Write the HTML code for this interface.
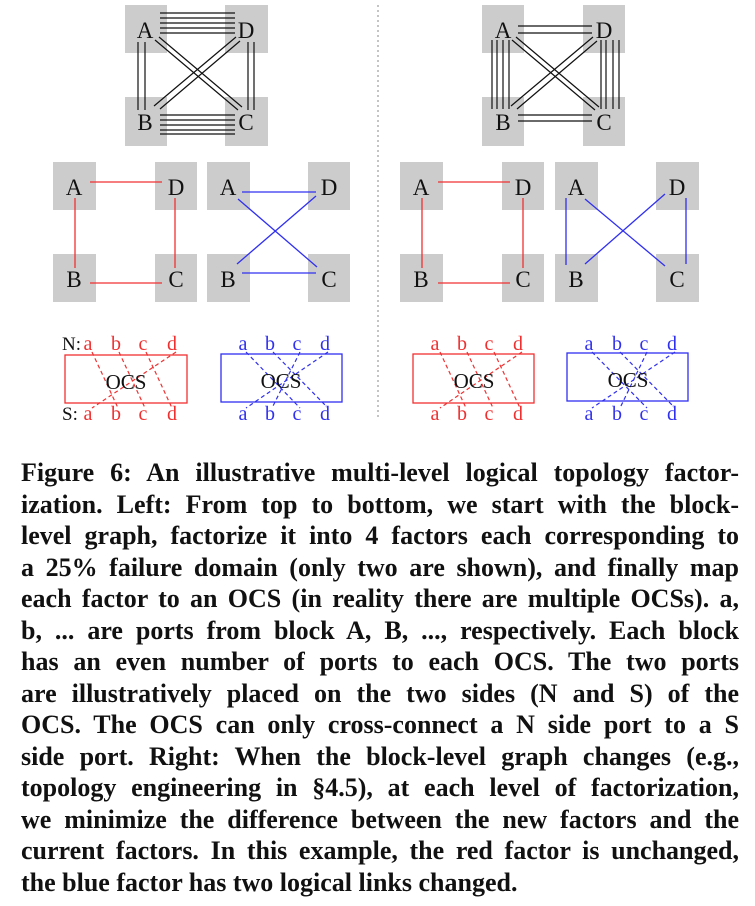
<!DOCTYPE html>
<html><head><meta charset="utf-8"><style>
html,body{margin:0;padding:0;background:#fff;}
body{width:755px;height:906px;position:relative;overflow:hidden;}
svg{position:absolute;left:0;top:0;font-family:"Liberation Serif",serif;}
.cap{position:absolute;left:21px;top:457px;width:718px;font-family:"Liberation Serif",serif;font-weight:bold;font-size:26px;line-height:31.5px;color:#111;}
.cap div{text-align:justify;text-align-last:justify;white-space:nowrap;}
.cap div.last{text-align-last:left;}
</style></head><body>
<svg width="755" height="440" viewBox="0 0 755 440">
<g fill="#cccccc">
<rect x="125" y="5" width="42" height="48"/><rect x="225" y="5" width="43" height="48"/>
<rect x="125" y="97" width="42" height="49"/><rect x="225" y="97" width="43" height="49"/>
<rect x="482" y="5" width="42" height="48"/><rect x="583" y="5" width="42" height="48"/>
<rect x="482" y="97" width="42" height="49"/><rect x="583" y="97" width="42" height="49"/>
<rect x="53" y="162" width="43" height="48"/><rect x="155" y="162" width="42" height="48"/>
<rect x="53" y="254" width="43" height="48"/><rect x="155" y="254" width="42" height="48"/>
<rect x="207" y="162" width="43" height="48"/><rect x="308" y="162" width="42" height="48"/>
<rect x="207" y="254" width="43" height="48"/><rect x="308" y="254" width="42" height="48"/>
<rect x="400" y="162" width="43" height="48"/><rect x="502" y="162" width="42" height="48"/>
<rect x="400" y="254" width="43" height="48"/><rect x="502" y="254" width="42" height="48"/>
<rect x="555" y="162" width="43" height="48"/><rect x="656" y="162" width="43" height="48"/>
<rect x="555" y="254" width="43" height="48"/><rect x="656" y="254" width="43" height="48"/>
</g>
<g stroke="#111" stroke-width="1.2" fill="none">
<path d="M160 13H235M160 18H235M160 23H235M160 28H235M160 33H235"/>
<path d="M160 115H235M160 120H235M160 125H235M160 130H235M160 134H235"/>
<path d="M138 42V110M145 42V110M248 42V110M254 42V110"/>
<path d="M155 40L238 110M159 37L242 107M236 37L154 106M240 41L160 109"/>
<path d="M518 26H592M518 33H592M518 115H592M518 121H592"/>
<path d="M492 40V109M497 40V109M503 40V109M509 40V109M601 40V109M606 40V109M613 40V109M619 40V109"/>
<path d="M512 40L595 110M516 37L599 107M593 37L511 106M597 41L517 109"/>
</g>
<g stroke="#f03030" stroke-width="1.3">
<path d="M90 182H162M75 198V268M175 198V268M90 283H162"/>
<path d="M438 182H510M422 198V268M523 198V268M438 283H510"/>
</g>
<g stroke="#3030f0" stroke-width="1.3">
<path d="M242 192H316M238 199L317 267M316 196L237 264M242 273H316"/>
<path d="M566 198V265M585 199L665 266M665 194L585 264M686 198V264"/>
</g>
<g font-size="23" fill="#111" text-anchor="middle">
<text x="145" y="38">A</text><text x="246" y="38">D</text><text x="145" y="130">B</text><text x="246" y="130">C</text>
<text x="503" y="38">A</text><text x="604" y="38">D</text><text x="503" y="130">B</text><text x="604" y="130">C</text>
<text x="74" y="195">A</text><text x="176" y="195">D</text><text x="74" y="287">B</text><text x="176" y="287">C</text>
<text x="228" y="195">A</text><text x="329" y="195">D</text><text x="228" y="287">B</text><text x="329" y="287">C</text>
<text x="421" y="195">A</text><text x="523" y="195">D</text><text x="421" y="287">B</text><text x="523" y="287">C</text>
<text x="576" y="195">A</text><text x="677" y="195">D</text><text x="576" y="287">B</text><text x="677" y="287">C</text>
</g>
<line x1="378" y1="5" x2="378" y2="418" stroke="#888" stroke-width="1" stroke-dasharray="2,3"/>
<g fill="none" stroke-width="1.3">
<rect x="65" y="355" width="122" height="48" stroke="#f03030"/>
<rect x="221" y="354" width="121" height="48" stroke="#3030f0"/>
<rect x="413" y="354" width="121" height="49" stroke="#f03030"/>
<rect x="567" y="353" width="121" height="48" stroke="#3030f0"/>
</g>
<g stroke="#f03030" stroke-width="1.2" stroke-dasharray="4,3">
<path d="M92 352L118 408M119 352L145 408M146 352L172 408M176 352L92 408"/>
<path d="M440 352L466 408M467 352L493 408M494 352L520 408M522 352L440 408"/>
</g>
<g stroke="#3030f0" stroke-width="1.2" stroke-dasharray="4,3">
<path d="M246 352L300 408M273 352L328 408M300 352L272 408M328 352L246 408"/>
<path d="M592 352L647 408M620 352L675 408M647 352L620 408M675 352L592 408"/>
</g>
<g font-size="21" fill="#111" text-anchor="middle">
<text x="126" y="389">OCS</text><text x="281" y="388">OCS</text>
<text x="474" y="388">OCS</text><text x="628" y="387">OCS</text>
<text x="62" y="350" text-anchor="start" font-size="19">N:</text>
<text x="62" y="420" text-anchor="start" font-size="19">S:</text>
</g>
<g font-size="20" fill="#f03030" text-anchor="middle">
<text x="88" y="350">a</text><text x="116" y="350">b</text><text x="143" y="350">c</text><text x="172" y="350">d</text>
<text x="88" y="420">a</text><text x="116" y="420">b</text><text x="143" y="420">c</text><text x="172" y="420">d</text>
<text x="435" y="350">a</text><text x="462" y="350">b</text><text x="489" y="350">c</text><text x="518" y="350">d</text>
<text x="435" y="420">a</text><text x="462" y="420">b</text><text x="489" y="420">c</text><text x="518" y="420">d</text>
</g>
<g font-size="20" fill="#3030f0" text-anchor="middle">
<text x="243" y="350">a</text><text x="270" y="350">b</text><text x="297" y="350">c</text><text x="325" y="350">d</text>
<text x="243" y="420">a</text><text x="270" y="420">b</text><text x="297" y="420">c</text><text x="325" y="420">d</text>
<text x="589" y="350">a</text><text x="617" y="350">b</text><text x="644" y="350">c</text><text x="672" y="350">d</text>
<text x="589" y="420">a</text><text x="617" y="420">b</text><text x="644" y="420">c</text><text x="672" y="420">d</text>
</g>
</svg>
<div class="cap">
<div>Figure 6: An illustrative multi-level logical topology factor-</div>
<div>ization. Left: From top to bottom, we start with the block-</div>
<div>level graph, factorize it into 4 factors each corresponding to</div>
<div>a 25% failure domain (only two are shown), and finally map</div>
<div>each factor to an OCS (in reality there are multiple OCSs). a,</div>
<div>b, ... are ports from block A, B, ..., respectively. Each block</div>
<div>has an even number of ports to each OCS. The two ports</div>
<div>are illustratively placed on the two sides (N and S) of the</div>
<div>OCS. The OCS can only cross-connect a N side port to a S</div>
<div>side port. Right: When the block-level graph changes (e.g.,</div>
<div>topology engineering in §4.5), at each level of factorization,</div>
<div>we minimize the difference between the new factors and the</div>
<div>current factors. In this example, the red factor is unchanged,</div>
<div class="last">the blue factor has two logical links changed.</div>
</div>
</body></html>
